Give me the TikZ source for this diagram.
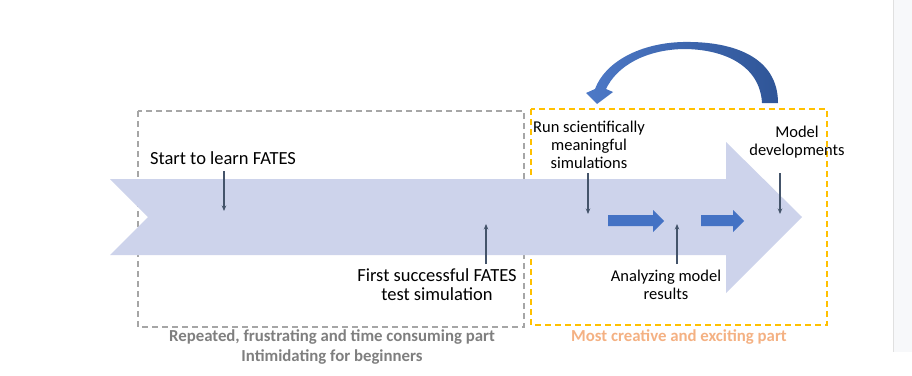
\documentclass[tikz,border=0pt]{standalone}
\usepackage{fontspec}
\setmainfont{Carlito}
\usetikzlibrary{arrows.meta}
\definecolor{bigarrow}{HTML}{CDD3EB}
\definecolor{boxgray}{HTML}{A6A6A6}
\definecolor{boxyellow}{HTML}{FFC000}
\definecolor{pointer}{HTML}{44546A}
\definecolor{blockblue}{HTML}{4472C4}
\definecolor{darkblue}{HTML}{2F5597}
\definecolor{labgray}{HTML}{7F7F7F}
\definecolor{laborange}{HTML}{F4B183}
\definecolor{panelfill}{HTML}{F7F8FA}
\definecolor{panelline}{HTML}{E0E0E0}
\tikzset{
  lab/.style={inner sep=0pt, align=center, text=black, font=\fontsize{18.5}{19}\selectfont},
  labs/.style={inner sep=0pt, align=center, text=black, font=\fontsize{16.5}{17.7}\selectfont},
  caption/.style={inner sep=0pt, align=center, font=\bfseries\fontsize{16.8}{20}\selectfont},
  dbox/.style={line width=1.5pt, dash pattern=on 6pt off 4pt},
  pointarrow/.style={draw=pointer, line width=1.2pt, -{Stealth[length=5.5pt,width=4.5pt]}},
  blockarrow/.style={fill=blockblue, draw=none}
}
\begin{document}
\begin{tikzpicture}[x=1pt,y=-1pt]
\useasboundingbox (0,0) rectangle (912,375);
% side panel
\fill[panelfill] (893,0) rectangle (912,352);
\draw[panelline, line width=1pt] (893.5,0) -- (893.5,352);
% dashed boxes
\draw[dbox, boxgray] (138,111) rectangle (524,327);
\draw[dbox, boxyellow] (531,109) rectangle (827,325);
% big arrow
\fill[bigarrow] (110,179) -- (726,179) -- (726,142) -- (802,217) -- (726,293) -- (726,255) -- (110,255) -- (148,217) -- cycle;
% curved arrow
\shade[left color=blockblue!95!white, right color=darkblue]
  (778,103) .. controls (778,58) and (735,41) .. (683,42)
  .. controls (640,43) and (605,62) .. (595,89)
  -- (586,93) -- (597,104) -- (613,92) -- (606,89)
  .. controls (617,66) and (645,50) .. (683,49)
  .. controls (725,49) and (760,66) .. (762,103) -- cycle;
% block arrows
\fill[blockarrow] (608,215) -- (653,215) -- (653,210) -- (664,221) -- (653,232) -- (653,226) -- (608,226) -- cycle;
\fill[blockarrow] (701,215) -- (733,215) -- (733,210) -- (744,221) -- (733,232) -- (733,226) -- (701,226) -- cycle;
% labels
\node[lab] (start) at (223,158) {Start to learn FATES};
\node[lab] (first) at (437,285) {First successful FATES\\test simulation};
\node[labs] (run) at (589,145) {Run scientifically\\meaningful\\simulations};
\node[labs] (anal) at (666,284.5) {Analyzing model\\results};
\node[labs] (model) at (797,142) {Model\\developments};
\node[caption, text=labgray] (capl) at (332,347) {Repeated, frustrating and time consuming part\\Intimidating for beginners};
\node[caption, text=laborange] (capr) at (679,337) {Most creative and exciting part};
% pointer ends
\coordinate (startend) at (224,211);
\coordinate (firstend) at (486,224);
\coordinate (runend) at (588,214);
\coordinate (analend) at (677,224);
\coordinate (modelend) at (780,214);
\draw[pointarrow] (224,171) -- (startend);
\draw[pointarrow] (486,264) -- (firstend);
\draw[pointarrow] (588,173) -- (runend);
\draw[pointarrow] (677,264) -- (analend);
\draw[pointarrow] (780,173) -- (modelend);
\end{tikzpicture}
\end{document}
